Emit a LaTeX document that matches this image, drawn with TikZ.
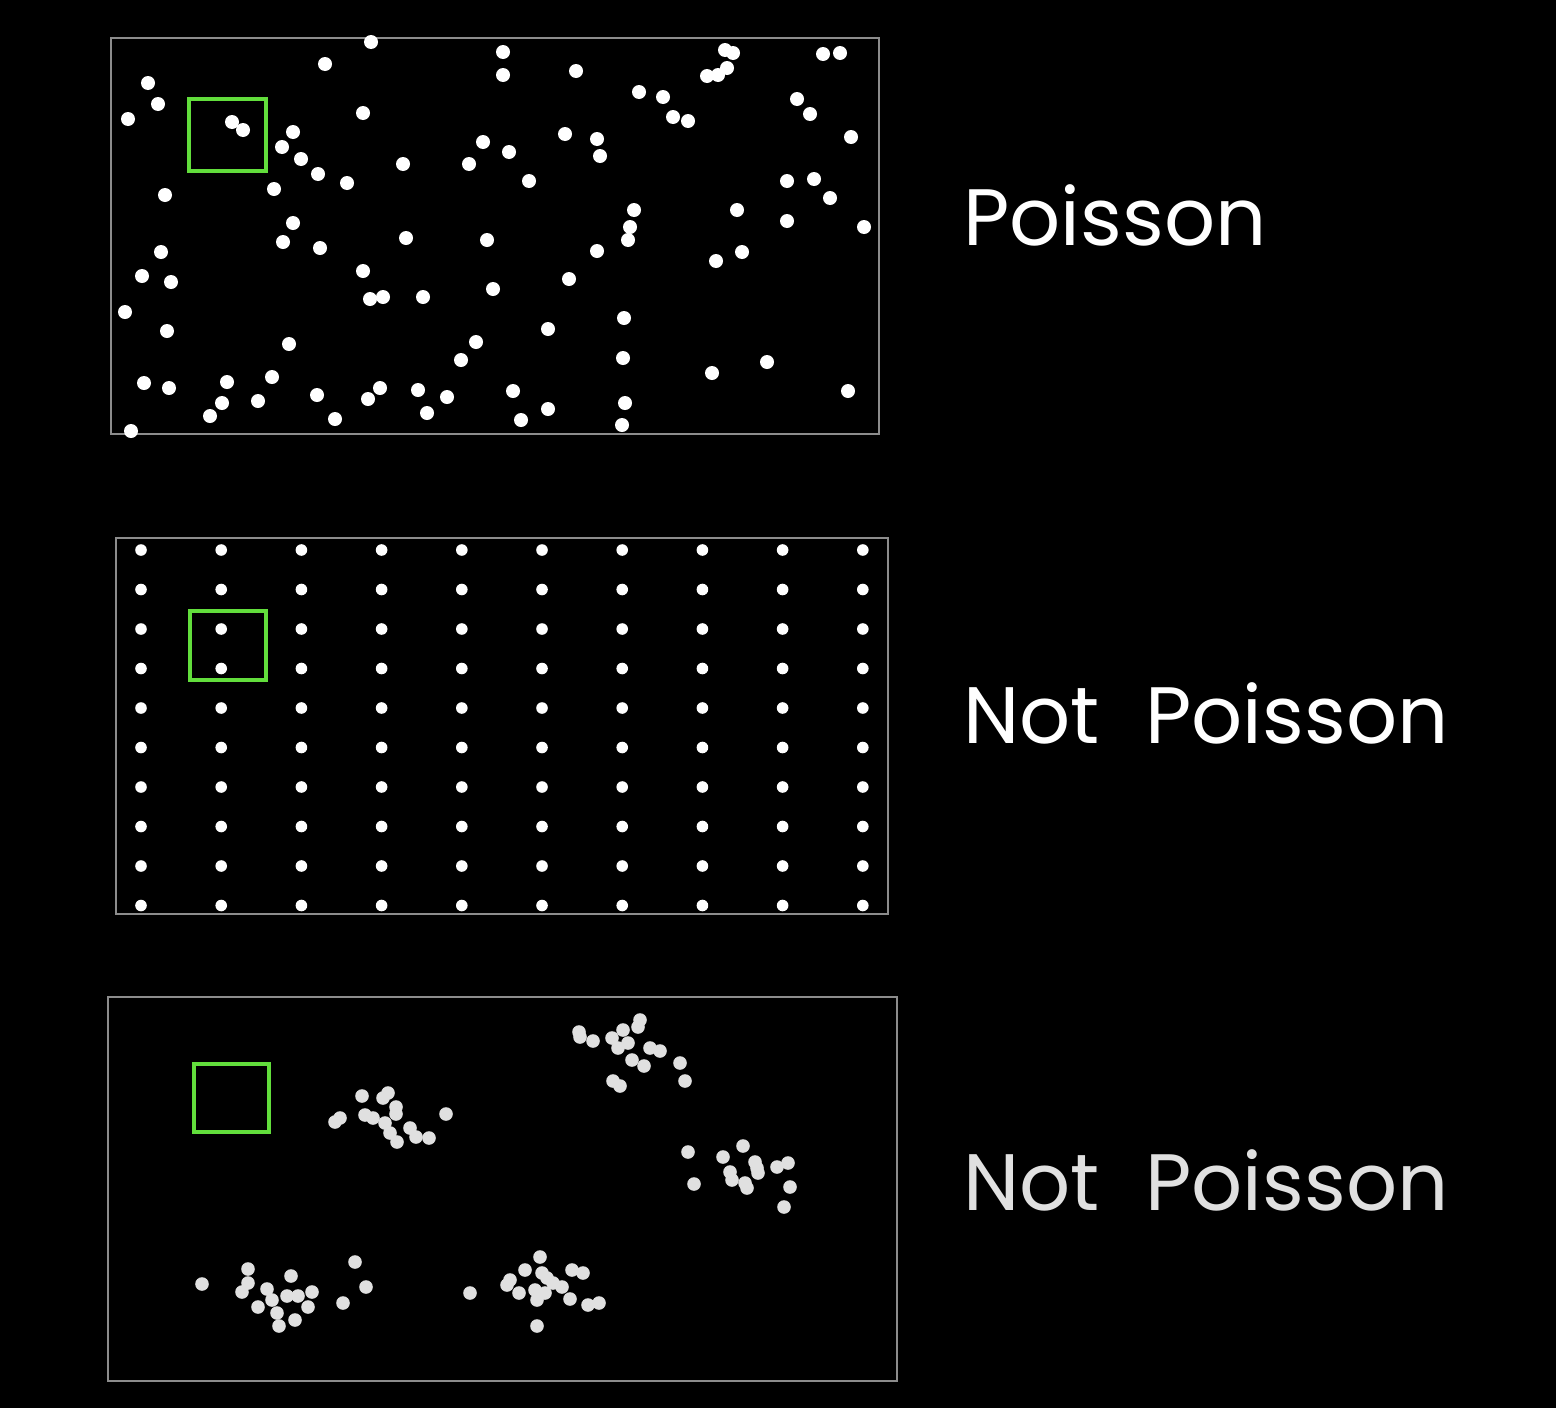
\documentclass[tikz,border=0pt]{standalone}
\usepackage{fontspec}
\setmainfont{Poppins}
\definecolor{lime}{RGB}{98,222,60}
\begin{document}
\begin{tikzpicture}[x=0.5pt,y=-0.5pt,
  frame/.style={draw=black!45!white,line width=1.1pt},
  window/.style={draw=lime,line width=2.3pt},
  wdot/.style={fill=white},
  gdot/.style={fill=black!12!white},
  label/.style={anchor=base west,inner sep=0pt,font=\fontsize{40}{40}\selectfont}]
\fill[black] (0,0) rectangle (1556,1408);
\useasboundingbox (0,0) rectangle (1556,1408);
% ---------- top panel (Poisson)
\draw[frame] (111,38) rectangle (879,434);
\foreach \x/\y in {371/42,325/64,148/83,158/104,128/119,232/122,243/130,363/113,293/132,282/147,301/159,318/174,347/183,403/164,483/142,469/164,165/195,274/189,293/223,
503/52,503/75,576/71,725/50,733/53,707/76,718/75,727/68,823/54,840/53,639/92,663/97,673/117,688/121,797/99,810/114,851/137,509/152,565/134,597/139,600/156,529/181,787/181,814/179,830/198,634/210,737/210,630/227,787/221,864/227,
283/242,320/248,406/238,487/240,161/252,142/276,171/282,125/312,363/271,370/299,383/297,423/297,493/289,167/331,289/344,476/342,461/360,144/383,169/388,227/382,272/377,222/403,210/416,258/401,317/395,335/419,380/388,368/399,418/390,447/397,427/413,131/431,
628/240,597/251,569/279,716/261,742/252,624/318,548/329,623/358,712/373,767/362,513/391,548/409,521/420,625/403,622/425,848/391}
  \fill[wdot] (\x,\y) circle[radius=3.5pt];
\draw[window] (189,99) rectangle (266,171);
\node[label,text=white] (t1) at (963,245) {Poisson};
% ---------- middle panel (regular grid)
\draw[frame] (116,538) rectangle (888,914);
\foreach \i in {0,...,9}
  \foreach \j in {0,...,9}
    \fill[wdot] ({141+80.2*\i},{550+39.5*\j}) circle[radius=2.9pt];
\draw[window] (190,611) rectangle (266,680);
\node[label,text=white] (t2) at (963,743) {Not\hspace{12pt} Poisson};
% ---------- bottom panel (clustered)
\draw[frame] (108,997) rectangle (897,1381);
\foreach \x/\y in {579/1032,580/1037,593/1041,612/1038,623/1030,640/1020,638/1027,618/1048,628/1043,650/1048,660/1051,632/1060,644/1066,680/1063,685/1081,613/1081,620/1086,
688/1152,743/1146,723/1157,694/1184,730/1172,732/1180,745/1183,747/1188,755/1162,757/1168,758/1173,777/1167,788/1163,790/1187,784/1207,
335/1122,340/1118,362/1096,383/1098,388/1093,396/1107,396/1114,365/1115,373/1118,385/1123,390/1133,397/1142,410/1128,416/1137,429/1138,446/1114,
202/1284,248/1269,248/1283,242/1292,267/1289,272/1300,258/1307,277/1313,279/1326,295/1320,291/1276,287/1296,298/1296,312/1292,308/1307,355/1262,366/1287,343/1303,
470/1293,540/1257,525/1270,510/1280,507/1285,519/1293,542/1273,547/1278,553/1283,562/1287,535/1290,537/1300,545/1293,570/1299,572/1270,583/1273,588/1305,599/1303,537/1326}
  \fill[gdot] (\x,\y) circle[radius=3.4pt];
\draw[window] (194,1064) rectangle (269,1132);
\node[label,text=black!12!white] (t3) at (963,1210) {Not\hspace{12pt} Poisson};
\end{tikzpicture}
\end{document}
